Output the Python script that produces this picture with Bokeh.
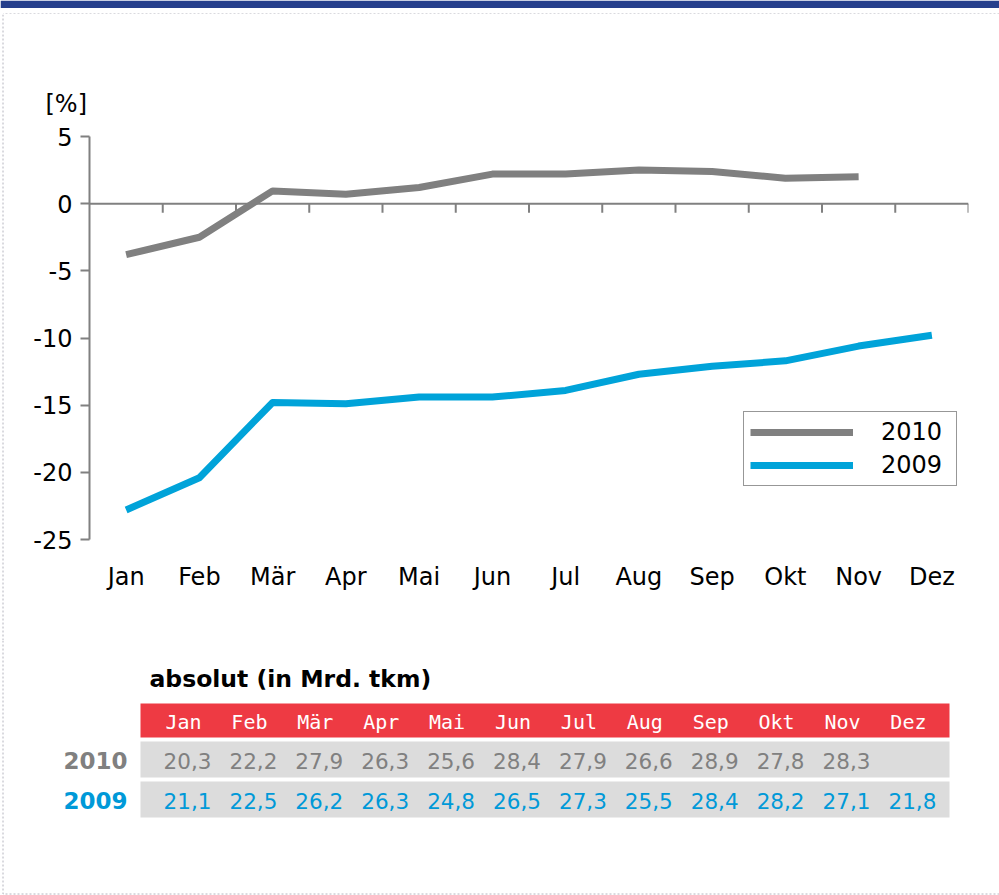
from bokeh.plotting import figure
from bokeh.layouts import column, row
from bokeh.models import (FactorRange, Range1d, FixedTicker, Span, Legend, LegendItem)
from bokeh.core.properties import value
from bokeh.embed import file_html
from bokeh.resources import INLINE

# ---------------- data ----------------
months = ["Jan", "Feb", "Mär", "Apr", "Mai", "Jun", "Jul", "Aug", "Sep", "Okt", "Nov", "Dez"]
series_names = ["2010", "2009"]
pct_2010 = [-3.8, -2.5, 0.95, 0.7, 1.2, 2.2, 2.2, 2.5, 2.4, 1.9, 2.0]
pct_2009 = [-22.8, -20.4, -14.8, -14.9, -14.4, -14.4, -13.9, -12.7, -12.1, -11.7, -10.6, -9.8]
y_ticks = [-25, -20, -15, -10, -5, 0, 5]
abs_2010 = [20.3, 22.2, 27.9, 26.3, 25.6, 28.4, 27.9, 26.6, 28.9, 27.8, 28.3]
abs_2009 = [21.1, 22.5, 26.2, 26.3, 24.8, 26.5, 27.3, 25.5, 28.4, 28.2, 27.1, 21.8]
unit_label = "[%]"
table_title = "absolut (in Mrd. tkm)"

# ---------------- styles ----------------
GRAY = "#808080"
BLUE = "#00A3D9"
BLUE_TXT = "#0099D8"
RED = "#EE3A43"
ROW = "#DCDCDC"
NAVY = "#263F8C"
DOT = "#B4B4BE"
FONT = "DejaVu Sans"

W = 999
H0 = 14      # banner strip
H1 = 626     # chart
H2 = 255     # table
STRIP = 4


def no_align(fig):
    if "frame_align" in fig.properties():
        fig.frame_align = False


def blank(fig):
    fig.outline_line_color = None
    fig.grid.visible = False
    fig.background_fill_color = "white"
    fig.border_fill_color = "white"
    no_align(fig)


# ---------------- banner + top dotted line ----------------
top = figure(width=W, height=H0, x_range=Range1d(0, W), y_range=Range1d(H0, 0),
             output_backend="svg", toolbar_location=None,
             x_axis_location=None, y_axis_location=None,
             min_border=0, min_border_left=0, min_border_right=0,
             min_border_top=0, min_border_bottom=0)
blank(top)
top.quad(left=[0], right=[W], top=[0], bottom=[7.6], fill_color=NAVY, line_color=None)
top.line(x=[2.5, 2.5, W + 5], y=[H0 + 1, 13.5, 13.5], line_color=DOT, line_width=1, line_dash="2 2")

# ---------------- left dotted strip ----------------
strip = figure(width=STRIP, height=H1, x_range=Range1d(0, STRIP), y_range=Range1d(H1, 0),
               output_backend="svg", toolbar_location=None,
               x_axis_location=None, y_axis_location=None,
               min_border=0, min_border_left=0, min_border_right=0,
               min_border_top=0, min_border_bottom=0)
blank(strip)
strip.line(x=[2.5, 2.5], y=[0, H1], line_color=DOT, line_width=1, line_dash="2 2")

# ---------------- chart ----------------
p = figure(width=W - STRIP, height=H1,
           x_range=FactorRange(*months, range_padding=0),
           y_range=Range1d(-25, 5),
           output_backend="svg", toolbar_location=None,
           min_border_left=89 - STRIP, min_border_right=31,
           min_border_top=136 - H0, min_border_bottom=H0 + H1 - 539)
p.outline_line_color = None
p.background_fill_color = "white"
p.border_fill_color = "white"
p.xgrid.visible = False
p.ygrid.visible = False
no_align(p)

p.title.text = unit_label
p.title.text_font = FONT
p.title.text_font_size = "24px"
p.title.text_font_style = "normal"
p.title.text_color = "black"
p.title.align = "left"
p.title.offset = -44
p.title.standoff = 38

p.yaxis.ticker = FixedTicker(ticks=y_ticks)
p.yaxis.major_label_overrides = {t: str(t) for t in y_ticks}
p.yaxis.axis_line_color = GRAY
p.yaxis.axis_line_width = 2
p.yaxis.major_tick_line_color = GRAY
p.yaxis.major_tick_line_width = 2
p.yaxis.major_tick_out = 9
p.yaxis.major_tick_in = 0
p.yaxis.minor_tick_line_color = None
p.yaxis.major_label_text_font = FONT
p.yaxis.major_label_text_font_size = "24px"
p.yaxis.major_label_text_color = "black"
p.yaxis.major_label_standoff = 8

p.xaxis.axis_line_color = None
p.xaxis.major_tick_line_color = None
p.xaxis.minor_tick_line_color = None
p.xaxis.major_label_text_font = FONT
p.xaxis.major_label_text_font_size = "24px"
p.xaxis.major_label_text_color = "black"
p.xaxis.major_label_standoff = 17

# zero line with category-boundary ticks
p.add_layout(Span(location=0, dimension="width", line_color=GRAY, line_width=2))
bounds = list(range(1, len(months) + 1))
tick_units = 9 / (403 / 30)
p.segment(x0=bounds, y0=[0] * len(bounds), x1=bounds, y1=[-tick_units] * len(bounds),
          line_color=GRAY, line_width=2)

r10 = p.line(months[:len(pct_2010)], pct_2010, line_color=GRAY, line_width=7, line_join="round")
r09 = p.line(months[:len(pct_2009)], pct_2009, line_color=BLUE, line_width=7, line_join="round")

legend = Legend(items=[LegendItem(label=series_names[0], renderers=[r10]),
                       LegendItem(label=series_names[1], renderers=[r09])],
                location=(654, 53), orientation="vertical",
                border_line_color="#303030", border_line_width=1,
                background_fill_color="white", background_fill_alpha=1,
                padding=6, spacing=5, margin=0,
                glyph_width=103, glyph_height=24, label_standoff=28, label_width=69,
                label_text_font=FONT, label_text_font_size="24px", label_text_color="black")
p.add_layout(legend)

# ---------------- table ----------------
Y0 = H0 + H1
t = figure(width=W, height=H2, x_range=Range1d(0, W), y_range=Range1d(Y0 + H2, Y0),
           output_backend="svg", toolbar_location=None,
           x_axis_location=None, y_axis_location=None,
           min_border=0, min_border_left=0, min_border_right=0,
           min_border_top=0, min_border_bottom=0)
blank(t)

col_x = [183 + 65.9 * i for i in range(len(months))]

t.text(x=[149], y=[678], text=[table_title], text_font=value(FONT), text_font_style="bold",
       text_font_size="23.5px", text_baseline="middle", text_align="left", text_color="black")

t.quad(left=[140], right=[949], top=[703], bottom=[737], fill_color=RED, line_color=None)
t.quad(left=[140, 140], right=[949, 949], top=[741, 781], bottom=[777, 817],
       fill_color=ROW, line_color=None)

t.text(x=col_x, y=[721] * len(months), text=months, text_font=value("DejaVu Sans Mono"),
       text_font_size="20px", text_color="white", text_align="center", text_baseline="middle")

t.text(x=[127, 127], y=[760, 800], text=series_names, text_font=value(FONT),
       text_font_style="bold", text_font_size="23px", text_color=[GRAY, BLUE_TXT],
       text_align="right", text_baseline="middle")

fmt = lambda v: f"{v:.1f}".replace(".", ",")
t.text(x=[c + 4 for c in col_x[:len(abs_2010)]], y=[760] * len(abs_2010),
       text=[fmt(v) for v in abs_2010], text_font=value(FONT), text_font_size="21.5px",
       text_color=GRAY, text_align="center", text_baseline="middle")
t.text(x=[c + 4 for c in col_x[:len(abs_2009)]], y=[800] * len(abs_2009),
       text=[fmt(v) for v in abs_2009], text_font=value(FONT), text_font_size="21.5px",
       text_color=BLUE_TXT, text_align="center", text_baseline="middle")

# dotted border continuation
t.line(x=[2.5, 2.5, W + 20], y=[Y0, 893.5, 893.5], line_color=DOT, line_width=1, line_dash="2 2")

layout = column(top, row(strip, p, spacing=0), t, spacing=0)

open("out.html", "w").write(file_html(layout, INLINE))
